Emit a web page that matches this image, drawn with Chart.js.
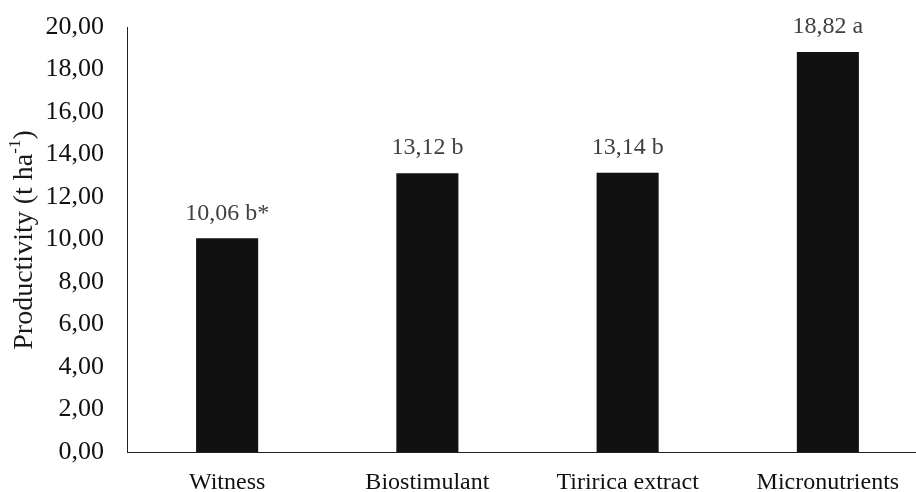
<!DOCTYPE html>
<html>
<head>
<meta charset="utf-8">
<script src="https://cdn.jsdelivr.net/npm/chart.js@4/dist/chart.umd.min.js"></script>
<style>
  html, body { margin: 0; padding: 0; background: #fff; overflow: hidden; }
  #wrap { width: 940px; height: 492px; position: relative; }
</style>
</head>
<body>
<div id="wrap"><canvas id="c"></canvas></div>
<script>
// Treatments and mean productivity (t/ha) with Tukey letters
const categories = ['Witness', 'Biostimulant', 'Tiririca extract', 'Micronutrients'];
const productivity = [10.06, 13.12, 13.14, 18.82];
const letters = ['b*', 'b', 'b', 'a'];
const yTicks = [0, 2, 4, 6, 8, 10, 12, 14, 16, 18, 20];

const FONT = '"Liberation Serif", "Times New Roman", serif';
const fmt = v => v.toFixed(2).replace('.', ',');

// Value + letter labels above each bar
const valueLabels = {
  id: 'valueLabels',
  afterDatasetsDraw(chart) {
    const ctx = chart.ctx;
    const meta = chart.getDatasetMeta(0);
    ctx.save();
    ctx.font = '24px ' + FONT;
    ctx.fillStyle = '#404040';
    ctx.textAlign = 'center';
    ctx.textBaseline = 'middle';
    meta.data.forEach((bar, i) => {
      ctx.fillText(fmt(productivity[i]) + ' ' + letters[i], bar.x, bar.y - 25);
    });
    ctx.restore();
  }
};

// Rotated y-axis title with superscript unit exponent
const yTitle = {
  id: 'yTitle',
  afterDraw(chart) {
    const ctx = chart.ctx;
    const main = 'Productivity (t ha';
    const sup = '-1';
    const tail = ')';
    const big = '28px ' + FONT;
    const small = '17px ' + FONT;
    ctx.save();
    ctx.fillStyle = '#1a1a1a';
    ctx.font = big;
    const wMain = ctx.measureText(main).width;
    const wTail = ctx.measureText(tail).width;
    ctx.font = small;
    const wSup = ctx.measureText(sup).width;
    const total = wMain + wSup + wTail;
    ctx.translate(25, 240);
    ctx.rotate(-Math.PI / 2);
    ctx.textBaseline = 'middle';
    ctx.textAlign = 'left';
    let x = -total / 2;
    ctx.font = big;
    ctx.fillText(main, x, 0);
    x += wMain;
    ctx.font = small;
    ctx.fillText(sup, x, -9);
    x += wSup;
    ctx.font = big;
    ctx.fillText(tail, x, 0);
    ctx.restore();
  }
};

new Chart(document.getElementById('c'), {
  type: 'bar',
  data: {
    labels: categories,
    datasets: [{
      data: productivity,
      backgroundColor: '#111111',
      borderWidth: 0,
      barPercentage: 0.31,
      categoryPercentage: 1.0
    }]
  },
  options: {
    responsive: true,
    maintainAspectRatio: false,
    animation: false,
    layout: { padding: { top: 27, right: 12, left: 0, bottom: 0 } },
    plugins: {
      legend: { display: false },
      tooltip: { enabled: false }
    },
    scales: {
      x: {
        grid: { display: false, drawTicks: false },
        border: { display: true, color: '#222', width: 1 },
        ticks: {
          color: '#111',
          font: { family: FONT, size: 24 },
          padding: 16,
          maxRotation: 0,
          autoSkip: false
        },
        afterFit(scale) {
          scale.height = 40;
          scale.paddingLeft = 0;
          scale.paddingRight = 0;
        }
      },
      y: {
        min: 0,
        max: 20,
        afterBuildTicks(scale) { scale.ticks = yTicks.map(v => ({ value: v })); },
        grid: { display: false, drawTicks: false },
        border: { display: true, color: '#222', width: 1 },
        ticks: {
          color: '#111',
          font: { family: FONT, size: 26 },
          padding: 23,
          callback: v => fmt(v)
        },
        afterFit(scale) {
          scale.width = 127;
          scale.paddingTop = 0;
          scale.paddingBottom = 0;
        }
      }
    }
  },
  plugins: [valueLabels, yTitle]
});
</script>
</body>
</html>
